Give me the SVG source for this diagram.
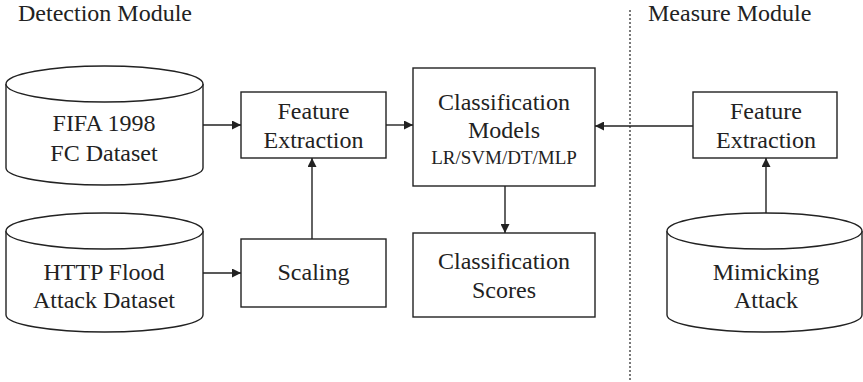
<svg xmlns="http://www.w3.org/2000/svg" width="863" height="382" viewBox="0 0 863 382" font-family="Liberation Serif">
  <style>
    .shape { fill: #ffffff; stroke: #222222; stroke-width: 1.4; }
    .edge { fill: none; stroke: #222222; stroke-width: 1.4; }
    .lbl { font-size: 24px; fill: #222222; text-anchor: middle; }
    .small { font-size: 19px; }
    .title { font-size: 24px; fill: #222222; }
  </style>
  <defs>
    <marker id="arrow" viewBox="0 0 10 10" refX="10" refY="5" markerWidth="9" markerHeight="9" markerUnits="userSpaceOnUse" orient="auto">
      <path d="M0,0 L10,5 L0,10 z" fill="#222222"/>
    </marker>
  </defs>

  <rect width="863" height="382" fill="#ffffff"/>

  <!-- module titles and separator -->
  <text class="title" x="18" y="21">Detection Module</text>
  <text class="title" x="648" y="21">Measure Module</text>
  <line x1="630" y1="10" x2="630" y2="381" stroke="#222222" stroke-width="1.2" stroke-dasharray="2,2"/>

  <!-- connectors -->
  <g id="connectors">
    <line class="edge" x1="203" y1="125" x2="241" y2="125" marker-end="url(#arrow)"/>
    <line class="edge" x1="386" y1="125" x2="413" y2="125" marker-end="url(#arrow)"/>
    <line class="edge" x1="203" y1="273" x2="241" y2="273" marker-end="url(#arrow)"/>
    <line class="edge" x1="312" y1="239" x2="312" y2="158" marker-end="url(#arrow)"/>
    <line class="edge" x1="505" y1="186" x2="505" y2="233" marker-end="url(#arrow)"/>
    <line class="edge" x1="693" y1="126" x2="595" y2="126" marker-end="url(#arrow)"/>
    <line class="edge" x1="766" y1="213" x2="766" y2="158" marker-end="url(#arrow)"/>
  </g>

  <!-- FIFA dataset cylinder -->
  <g id="fifa-dataset">
    <path class="shape" d="M6,84 L6,168 A98.5,17 0 0 0 203,168 L203,84"/>
    <ellipse class="shape" cx="104.5" cy="84" rx="98.5" ry="18"/>
    <text class="lbl" x="104" y="131">FIFA 1998</text>
    <text class="lbl" x="104" y="161">FC Dataset</text>
  </g>

  <!-- HTTP flood dataset cylinder -->
  <g id="http-flood-dataset">
    <path class="shape" d="M6,231 L6,315 A98.5,17 0 0 0 203,315 L203,231"/>
    <ellipse class="shape" cx="104.5" cy="231" rx="98.5" ry="18"/>
    <text class="lbl" x="104" y="280">HTTP Flood</text>
    <text class="lbl" x="104" y="308">Attack Dataset</text>
  </g>

  <!-- feature extraction (detection) -->
  <g id="feature-extraction-detect">
    <rect class="shape" x="241" y="92" width="145" height="66"/>
    <text class="lbl" x="313.5" y="119">Feature</text>
    <text class="lbl" x="313.5" y="148">Extraction</text>
  </g>

  <!-- scaling -->
  <g id="scaling">
    <rect class="shape" x="241" y="239" width="145" height="68"/>
    <text class="lbl" x="313.5" y="280">Scaling</text>
  </g>

  <!-- classification models -->
  <g id="classification-models">
    <rect class="shape" x="413" y="68" width="182" height="118"/>
    <text class="lbl" x="504" y="110">Classification</text>
    <text class="lbl" x="504" y="138">Models</text>
    <text class="lbl small" x="504" y="164">LR/SVM/DT/MLP</text>
  </g>

  <!-- classification scores -->
  <g id="classification-scores">
    <rect class="shape" x="413" y="233" width="182" height="84"/>
    <text class="lbl" x="504" y="269">Classification</text>
    <text class="lbl" x="504" y="298">Scores</text>
  </g>

  <!-- feature extraction (measure) -->
  <g id="feature-extraction-measure">
    <rect class="shape" x="693" y="92" width="144" height="66"/>
    <text class="lbl" x="766" y="119">Feature</text>
    <text class="lbl" x="766" y="148">Extraction</text>
  </g>

  <!-- mimicking attack cylinder -->
  <g id="mimicking-attack">
    <path class="shape" d="M667,231 L667,315 A97.5,17 0 0 0 862,315 L862,231"/>
    <ellipse class="shape" cx="764.5" cy="231" rx="97.5" ry="18"/>
    <text class="lbl" x="766" y="280">Mimicking</text>
    <text class="lbl" x="766" y="308">Attack</text>
  </g>
</svg>
